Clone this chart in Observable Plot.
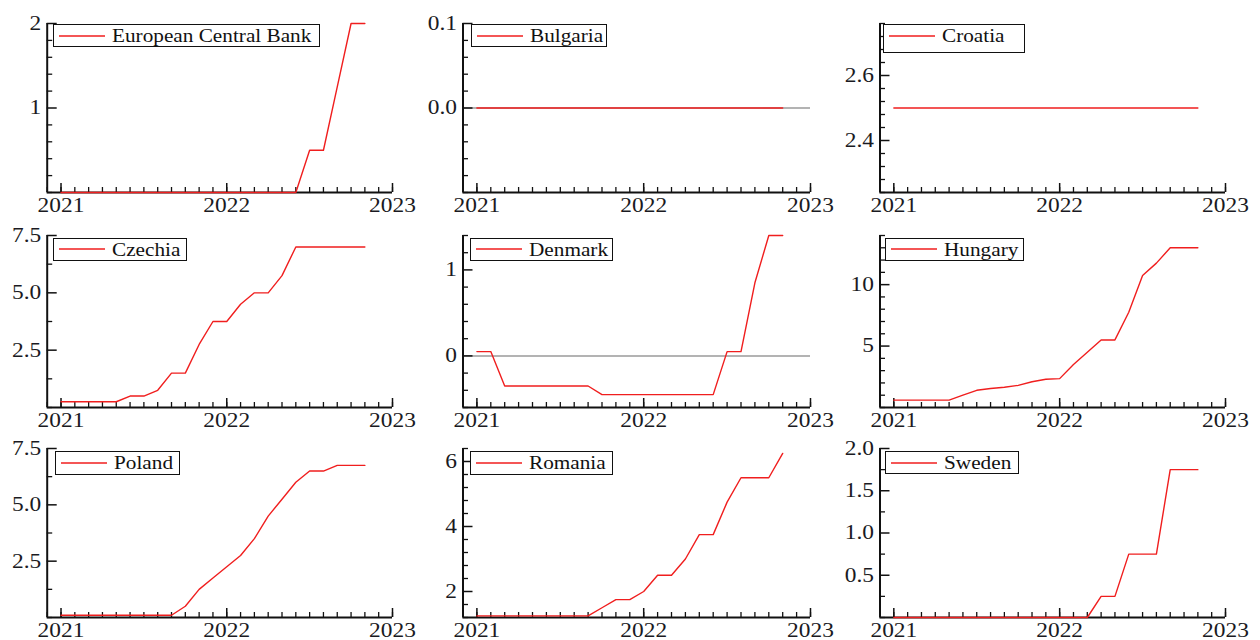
<!DOCTYPE html>
<html>
<head>
<meta charset="utf-8">
<script src="https://cdn.jsdelivr.net/npm/d3@7"></script>
<script src="https://cdn.jsdelivr.net/npm/@observablehq/plot@0.6"></script>
<style>
  body { margin: 0; background: #fff; }
  #chart { position: relative; width: 1260px; height: 640px; overflow: hidden; background: #fff;
           font-family: "Liberation Serif", "Times New Roman", serif; }
  .panel { position: absolute; }
  .panel svg { background: transparent !important; overflow: visible; }
  .legend { position: absolute; border: 1.5px solid #111; background: #fff; box-sizing: border-box; }
  .legend svg.swatch { position: absolute; overflow: visible; }
  .legend .label { position: absolute; font-size: 18px; line-height: 1; color: #111;
                   white-space: nowrap; transform-origin: 0 50%; }
</style>
</head>
<body>
<div id="chart"></div>
<script>
// ---------------- data ----------------
const months = ["2021-01","2021-02","2021-03","2021-04","2021-05","2021-06","2021-07","2021-08","2021-09","2021-10","2021-11","2021-12",
                "2022-01","2022-02","2022-03","2022-04","2022-05","2022-06","2022-07","2022-08","2022-09","2022-10","2022-11"];

const seriesNames = ["European Central Bank","Bulgaria","Croatia","Czechia","Denmark","Hungary","Poland","Romania","Sweden"];

const ecb      = [0,0,0,0,0,0,0,0,0,0,0,0, 0,0,0,0,0,0,0.5,0.5,1.25,2,2];
const bulgaria = [0,0,0,0,0,0,0,0,0,0,0,0, 0,0,0,0,0,0,0,0,0,0,0];
const croatia  = [2.5,2.5,2.5,2.5,2.5,2.5,2.5,2.5,2.5,2.5,2.5,2.5, 2.5,2.5,2.5,2.5,2.5,2.5,2.5,2.5,2.5,2.5,2.5];
const czechia  = [0.25,0.25,0.25,0.25,0.25,0.5,0.5,0.75,1.5,1.5,2.75,3.75, 3.75,4.5,5,5,5.75,7,7,7,7,7,7];
const denmark  = [0.05,0.05,-0.35,-0.35,-0.35,-0.35,-0.35,-0.35,-0.35,-0.45,-0.45,-0.45, -0.45,-0.45,-0.45,-0.45,-0.45,-0.45,0.05,0.05,0.85,1.4,1.4];
const hungary  = [0.6,0.6,0.6,0.6,0.6,1.0,1.4,1.55,1.65,1.8,2.1,2.3, 2.35,3.5,4.5,5.5,5.5,7.75,10.75,11.75,13,13,13];
const poland   = [0.1,0.1,0.1,0.1,0.1,0.1,0.1,0.1,0.1,0.5,1.25,1.75, 2.25,2.75,3.5,4.5,5.25,6,6.5,6.5,6.75,6.75,6.75];
const romania  = [1.25,1.25,1.25,1.25,1.25,1.25,1.25,1.25,1.25,1.5,1.75,1.75, 2,2.5,2.5,3,3.75,3.75,4.75,5.5,5.5,5.5,6.25];
const sweden   = [0,0,0,0,0,0,0,0,0,0,0,0, 0,0,0,0.25,0.25,0.75,0.75,0.75,1.75,1.75,1.75];
const seriesValues = [ecb, bulgaria, croatia, czechia, denmark, hungary, poland, romania, sweden];

// axis configuration
const xTickYears  = [2021, 2022, 2023];
const xTickLabels = ["2021", "2022", "2023"];
const yDomains = [[0,2],[-0.1,0.1],[2.24,2.76],[0,7.5],[-0.6,1.4],[0,14],[0,7.5],[1.2,6.4],[0,2]];
const yTicks = [[1,2],[0,0.1],[2.4,2.6],[2.5,5,7.5],[0,1],[5,10],[2.5,5,7.5],[2,4,6],[0.5,1,1.5,2]];
const yTickLabels = [["1","2"],["0.0","0.1"],["2.4","2.6"],["2.5","5.0","7.5"],["0","1"],["5","10"],["2.5","5.0","7.5"],["2","4","6"],["0.5","1.0","1.5","2.0"]];
const yMinorStep = [0.2, 0.02, 0.04, 1.25, 0.2, 1, 1.25, 0.4, 0.25];

// ---------------- layout / style ----------------
const RED = "#f01e1e", INK = "#111";
const colLeft = [0, 420, 840];
const colMarginLeft = [46.7, 42.5, 39.5];
const colMarginRight = [28, 30, 35];
const rowTop = [23, 235, 448];
const rowBottom = [192, 407, 617];
const legLeft = [53.3, 470.7, 882.5, 53.3, 470, 885, 55, 470, 885];
const legTop = [24, 237.7, 451];
const legWidth = [266.7, 136.6, 142.5, 133.4, 142.7, 139.3, 125, 142.7, 134.3];
const legHeight = [23.3, 23.3, 28.7, 23.3, 23.3, 23.3, 24, 24, 23.3];
const STRETCH = 1.17;

const toYear = s => { const [y, m] = s.split("-").map(Number); return y + (m - 1) / 12; };
const X0 = toYear(months[0]) - 1/12, X1 = 2023;
const monthTicks = d3.range(0, Math.round((X1 - X0) * 12) + 1).map(k => X0 + k / 12);

const chart = document.getElementById("chart");

seriesNames.forEach((name, i) => {
  const r = Math.floor(i / 3), c = i % 3;
  const ml = colMarginLeft[c], mr = colMarginRight[c];
  const mt = 23, mb = 26;
  const ih = rowBottom[r] - rowTop[r];
  const W = 420, H = ih + mt + mb;
  const iw = W - ml - mr;
  const dom = yDomains[i];
  const data = months.map((m, k) => ({t: toYear(m), v: seriesValues[i][k]}));
  const eps = 1e-9;
  const minorY = d3.range(0, Math.round((dom[1] - dom[0]) / yMinorStep[i]) + 1)
                   .map(k => +(dom[0] + k * yMinorStep[i]).toFixed(6))
                   .filter(v => !yTicks[i].some(t => Math.abs(t - v) < eps));
  const xLab = new Map(xTickYears.map((y, k) => [y, xTickLabels[k]]));
  const yLab = new Map(yTicks[i].map((y, k) => [y, yTickLabels[i][k]]));

  const svg = Plot.plot({
    width: W, height: H,
    marginLeft: ml, marginRight: mr, marginTop: mt, marginBottom: mb,
    style: {fontFamily: "'Liberation Serif', 'Times New Roman', serif", fontSize: "20px", background: "transparent", overflow: "visible"},
    x: {type: "linear", domain: [X0, X1], label: null},
    y: {type: "linear", domain: dom, label: null},
    marks: [
      (dom[0] < 0 && dom[1] > 0) ? Plot.ruleY([0], {stroke: "#9a9a9a", strokeWidth: 1.5}) : null,
      Plot.tickX(monthTicks, {x: d => d, insetTop: ih - 5, stroke: INK, strokeWidth: 1.3}),
      Plot.tickX(xTickYears, {x: d => d, insetTop: ih - 9, stroke: INK, strokeWidth: 1.5}),
      Plot.tickY(minorY, {y: d => d, insetRight: iw - 5.5, stroke: INK, strokeWidth: 1.3}),
      Plot.tickY(yTicks[i], {y: d => d, insetRight: iw - 10, stroke: INK, strokeWidth: 1.5}),
      Plot.ruleX([X0], {stroke: INK, strokeWidth: 2}),
      Plot.ruleY([dom[0]], {stroke: INK, strokeWidth: 2}),
      Plot.axisX(xTickYears, {tickSize: 0, tickPadding: 5, label: null, tickFormat: d => xLab.get(d), fontSize: 20, fill: "#1a1a22"}),
      Plot.axisY(yTicks[i], {tickSize: 0, tickPadding: 6, label: null, tickFormat: d => yLab.get(d), fontSize: 20, fill: "#1a1a22"}),
      Plot.line(data, {x: "t", y: "v", stroke: RED, strokeWidth: 1.4})
    ]
  });

  const holder = document.createElement("div");
  holder.className = "panel";
  holder.style.left = colLeft[c] + "px";
  holder.style.top = (rowTop[r] - mt) + "px";
  holder.appendChild(svg);
  chart.appendChild(holder);

  // horizontally widened serif glyphs as in the reference
  svg.querySelectorAll("text").forEach(t => {
    const w = t.getComputedTextLength();
    if (w > 0) { t.setAttribute("textLength", (w * STRETCH).toFixed(2)); t.setAttribute("lengthAdjust", "spacingAndGlyphs"); }
  });

  // legend box
  const leg = document.createElement("div");
  leg.className = "legend";
  leg.style.left = legLeft[i] + "px";
  leg.style.top = legTop[r] + "px";
  leg.style.width = legWidth[i] + "px";
  leg.style.height = legHeight[i] + "px";
  const NS = "http://www.w3.org/2000/svg";
  const sw = document.createElementNS(NS, "svg");
  sw.setAttribute("class", "swatch");
  sw.setAttribute("width", "52"); sw.setAttribute("height", "4");
  sw.style.left = "0px"; sw.style.top = "8.5px";
  const ln = document.createElementNS(NS, "line");
  ln.setAttribute("x1", "5"); ln.setAttribute("x2", "51");
  ln.setAttribute("y1", "2"); ln.setAttribute("y2", "2");
  ln.setAttribute("stroke", RED); ln.setAttribute("stroke-width", "1.5");
  sw.appendChild(ln);
  const lab = document.createElement("div");
  lab.className = "label";
  lab.textContent = name;
  lab.style.left = "58px"; lab.style.top = "2px";
  lab.style.transform = `scaleX(${1.18})`;
  leg.appendChild(sw); leg.appendChild(lab);
  chart.appendChild(leg);
});
</script>
</body>
</html>
